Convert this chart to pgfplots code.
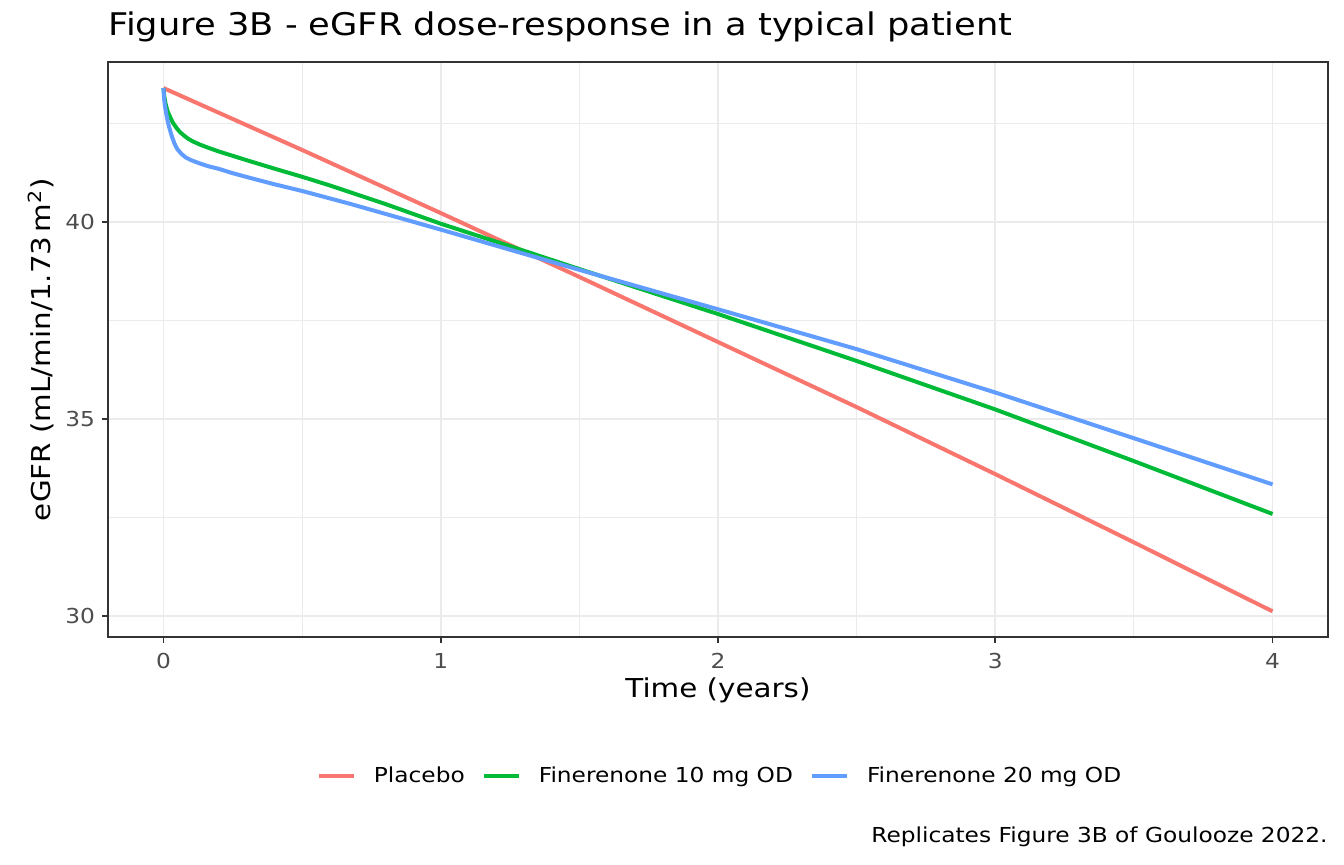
\documentclass[border=0pt]{standalone}
\usepackage{fontspec}
\setmainfont{DejaVu Sans}[FakeStretch=1.13]
\usepackage{pgfplots}
\pgfplotsset{compat=1.18}
\definecolor{cred}{HTML}{F8766D}
\definecolor{cgreen}{HTML}{00BA38}
\definecolor{cblue}{HTML}{619CFF}
\definecolor{gridc}{HTML}{EBEBEB}
\definecolor{bordc}{HTML}{333333}
\definecolor{tickc}{HTML}{4D4D4D}

\pgfplotstableread{
t y
0 43.39
0.5 41.82
1 40.22
1.5 38.60
2 36.95
2.5 35.30
3 33.60
3.5 31.87
4 30.12
}\placebo

\pgfplotstableread{
t y
0 43.39
0.003 43.18
0.008 42.98
0.015 42.80
0.025 42.64
0.035 42.50
0.048 42.37
0.06 42.27
0.075 42.18
0.09 42.10
0.108 42.03
0.13 41.96
0.16 41.88
0.2 41.78
0.25 41.67
0.3 41.56
0.408 41.33
0.5 41.14
0.6 40.92
0.8 40.45
1.0 39.95
1.25 39.38
1.5 38.80
1.75 38.23
2.0 37.66
2.5 36.47
3.0 35.24
3.5 33.93
4.0 32.59
}\ften

\pgfplotstableread{
t y
0 43.39
0.002 43.15
0.005 42.95
0.01 42.74
0.015 42.56
0.02 42.41
0.03 42.17
0.04 41.98
0.05 41.84
0.065 41.72
0.08 41.63
0.1 41.56
0.13 41.48
0.16 41.41
0.2 41.34
0.25 41.23
0.313 41.11
0.4 40.95
0.5 40.78
0.67 40.46
0.8 40.20
1.0 39.80
1.5 38.78
2.0 37.78
2.5 36.77
3.0 35.67
3.5 34.51
4.0 33.34
}\ftwenty

\begin{document}
\begin{tikzpicture}[x=1pt,y=1pt]
\path[use as bounding box] (0,0) rectangle (672,432);
\begin{axis}[
  at={(54pt,113.5pt)}, anchor=south west,
  scale only axis, width=610pt, height=287.5pt,
  xmin=-0.2, xmax=4.2, ymin=29.47, ymax=44.05,
  xtick={0,1,2,3,4}, ytick={30,35,40},
  minor xtick={0.5,1.5,2.5,3.5}, minor ytick={32.5,37.5,42.5},
  grid=both,
  major grid style={color=gridc, line width=0.9pt},
  minor grid style={color=gridc, line width=0.45pt},
  axis line style={color=bordc, line width=0.55pt},
  tick pos=left, tick align=outside,
  major tick length=3pt, minor tick length=0pt,
  major tick style={color=bordc, line width=0.9pt},
  /pgf/number format/assume math mode=true,
  tick label style={font=\fontsize{10.3}{12}\selectfont, text=tickc},
  xticklabel style={yshift=-1.5pt},
  legend style={at={(0.5025,-0.2417)}, anchor=center, draw=none, fill=none,
    legend columns=3, font=\fontsize{10.3}{12}\selectfont,
    /tikz/every odd column/.append style={column sep=7pt},
    /tikz/every even column/.append style={column sep=6.5pt}},
  legend image code/.code={\draw[line width=2pt] (0pt,0pt) -- (17.5pt,0pt);},
]
\addplot[cred, line width=2pt] table[x=t,y=y] {\placebo};
\addlegendentry{Placebo}
\addplot[cgreen, line width=2pt] table[x=t,y=y] {\ften};
\addlegendentry{Finerenone 10 mg OD}
\addplot[cblue, line width=2pt] table[x=t,y=y] {\ftwenty};
\addlegendentry{Finerenone 20 mg OD}
\end{axis}
\node[anchor=base west, inner sep=0pt, font=\fontsize{15.6}{18}\selectfont] at (54,414) {Figure 3B - eGFR dose-response in a typical patient};
\node[anchor=base, inner sep=0pt, font=\fontsize{13}{15}\selectfont] at (359,83.3) {Time (years)};
\node[anchor=base, inner sep=0pt, rotate=90, font=\fontsize{13}{15}\selectfont] at (25,257.25) {eGFR (mL/min/1.73\,m\textsuperscript{2})};
\node[anchor=base east, inner sep=0pt, font=\fontsize{10.3}{12}\selectfont] at (664,11) {Replicates Figure 3B of Goulooze 2022.};
\end{tikzpicture}
\end{document}
